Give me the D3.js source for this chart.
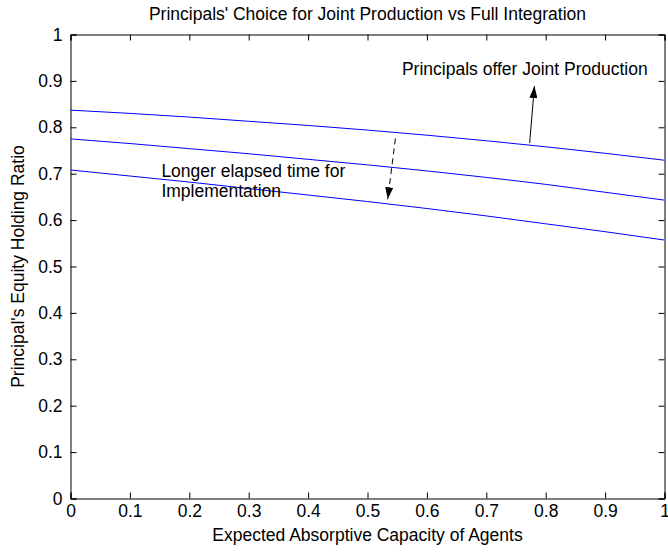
<!DOCTYPE html>
<html>
<head>
    <title>Principals' Choice for Joint Production vs Full Integration</title>
    <script src="https://d3js.org/d3.v7.min.js"></script>
    <style>
        body {
            margin: 0;
            background: #fff;
            font-family: "Liberation Sans", Arial, sans-serif;
        }
        text {
            fill: #000;
        }
    </style>
</head>
<body>
    <div id="chart"></div>
    <script>
        // Absorptive capacity values (x)
        const capacity = [0, 0.1, 0.2, 0.3, 0.4, 0.5, 0.6, 0.7, 0.8, 0.9, 1];

        // Equity holding ratio curves
        const curveHigh = [0.837, 0.830, 0.822, 0.813, 0.804, 0.794, 0.783, 0.771, 0.758, 0.744, 0.729];
        const curveMid  = [0.775, 0.765, 0.754, 0.743, 0.731, 0.719, 0.706, 0.692, 0.677, 0.660, 0.643];
        const curveLow  = [0.708, 0.695, 0.682, 0.668, 0.654, 0.640, 0.625, 0.609, 0.592, 0.575, 0.557];

        const xTicks = [0, 0.1, 0.2, 0.3, 0.4, 0.5, 0.6, 0.7, 0.8, 0.9, 1];
        const yTicks = [0, 0.1, 0.2, 0.3, 0.4, 0.5, 0.6, 0.7, 0.8, 0.9, 1];

        // Annotation arrows in data units: [x1, y1, x2, y2]
        const arrowUp   = [0.773, 0.766, 0.781, 0.889];
        const arrowDown = [0.547, 0.776, 0.534, 0.645];

        const width = 668, height = 552;
        const margin = {top: 34.5, right: 3.5, bottom: 53.5, left: 70.5};
        const fontSize = 17.5;

        const svg = d3.select('#chart')
            .append('svg')
            .attr('width', width)
            .attr('height', height);

        const x = d3.scaleLinear().domain([0, 1]).range([margin.left, width - margin.right]);
        const y = d3.scaleLinear().domain([0, 1]).range([height - margin.bottom, margin.top]);

        svg.append('defs').append('marker')
            .attr('id', 'head')
            .attr('viewBox', '0 0 12 8')
            .attr('refX', 12)
            .attr('refY', 4)
            .attr('markerWidth', 12)
            .attr('markerHeight', 8)
            .attr('markerUnits', 'userSpaceOnUse')
            .attr('orient', 'auto')
            .append('path')
            .attr('d', 'M0,0L12,4L0,8Z')
            .attr('fill', '#000');

        // Axes with inward ticks, box on all sides
        const tickLen = 6;
        const gx = svg.append('g')
            .attr('transform', `translate(0,${y(0)})`)
            .call(d3.axisBottom(x).tickValues(xTicks).tickSize(-tickLen).tickPadding(6)
                .tickFormat(d => d3.format('~g')(d)));
        const gxTop = svg.append('g')
            .attr('transform', `translate(0,${y(1)})`)
            .call(d3.axisTop(x).tickValues(xTicks).tickSize(-tickLen).tickFormat(''));
        const gy = svg.append('g')
            .attr('transform', `translate(${x(0)},0)`)
            .call(d3.axisLeft(y).tickValues(yTicks).tickSize(-tickLen).tickPadding(8)
                .tickFormat(d => d3.format('~g')(d)));
        const gyRight = svg.append('g')
            .attr('transform', `translate(${x(1)},0)`)
            .call(d3.axisRight(y).tickValues(yTicks).tickSize(-tickLen).tickFormat(''));

        [gx, gxTop, gy, gyRight].forEach(g => {
            g.select('.domain').attr('stroke', '#000').attr('stroke-width', 1);
            g.selectAll('.tick line').attr('stroke', '#000');
            g.selectAll('text')
                .attr('font-family', '"Liberation Sans", Arial, sans-serif')
                .attr('font-size', fontSize)
                .attr('fill', '#000');
        });

        // Curves
        const line = d3.line()
            .x((d, i) => x(capacity[i]))
            .y(d => y(d))
            .curve(d3.curveMonotoneX);

        [curveHigh, curveMid, curveLow].forEach(c => {
            svg.append('path')
                .datum(c)
                .attr('d', line)
                .attr('fill', 'none')
                .attr('stroke', '#0000ff')
                .attr('stroke-width', 1);
        });

        // Arrows
        svg.append('line')
            .attr('x1', x(arrowUp[0])).attr('y1', y(arrowUp[1]))
            .attr('x2', x(arrowUp[2])).attr('y2', y(arrowUp[3]))
            .attr('stroke', '#000')
            .attr('marker-end', 'url(#head)');

        svg.append('line')
            .attr('x1', x(arrowDown[0])).attr('y1', y(arrowDown[1]))
            .attr('x2', x(arrowDown[2])).attr('y2', y(arrowDown[3]))
            .attr('stroke', '#000')
            .attr('stroke-dasharray', '6,4')
            .attr('marker-end', 'url(#head)');

        // Annotation texts
        svg.append('text')
            .attr('x', x(0.558))
            .attr('y', 75)
            .attr('font-size', fontSize)
            .text('Principals offer Joint Production');

        const note = svg.append('text')
            .attr('x', x(0.153))
            .attr('y', 176.5)
            .attr('font-size', fontSize);
        note.append('tspan').text('Longer elapsed time for');
        note.append('tspan').attr('x', x(0.153)).attr('dy', 20.5).text('Implementation');

        // Titles
        svg.append('text')
            .attr('x', (x(0) + x(1)) / 2)
            .attr('y', 20)
            .attr('text-anchor', 'middle')
            .attr('font-size', fontSize)
            .text("Principals' Choice for Joint Production vs Full Integration");

        svg.append('text')
            .attr('x', (x(0) + x(1)) / 2)
            .attr('y', 541)
            .attr('text-anchor', 'middle')
            .attr('font-size', fontSize)
            .text('Expected Absorptive Capacity of Agents');

        svg.append('text')
            .attr('transform', `translate(24,${(y(0) + y(1)) / 2}) rotate(-90)`)
            .attr('text-anchor', 'middle')
            .attr('font-size', fontSize)
            .text("Principal's Equity Holding Ratio");
    </script>
</body>
</html>
